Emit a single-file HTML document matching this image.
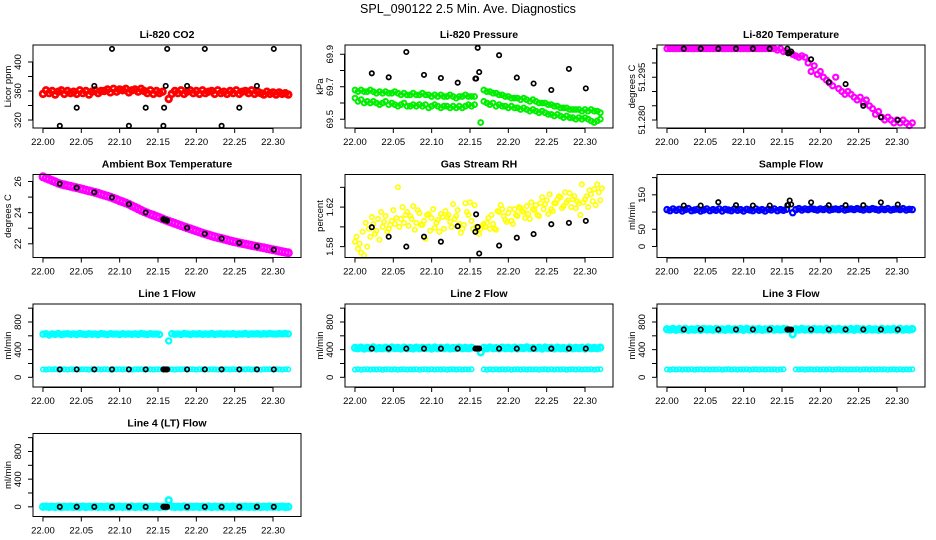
<!DOCTYPE html>
<html><head><meta charset="utf-8"><title>SPL_090122 Diagnostics</title>
<style>
html,body{margin:0;padding:0;background:#fff;}
svg{display:block;font-family:"Liberation Sans",Arial,sans-serif;}
</style></head>
<body>
<svg id="chart" width="936" height="540" viewBox="0 0 936 540" xmlns="http://www.w3.org/2000/svg">
<rect width="936" height="540" fill="#fff"/>
<text x="468" y="13" text-anchor="middle" font-size="12.5">SPL_090122  2.5 Min. Ave. Diagnostics</text>
</svg>
<script>
const sampleStart = 22.0;
const sampleStep = 0.004;
const xTicks = [22.00, 22.05, 22.10, 22.15, 22.20, 22.25, 22.30];
const xTickLabels = ["22.00","22.05","22.10","22.15","22.20","22.25","22.30"];

const avgTimes = [22.022,22.044,22.067,22.090,22.112,22.134,22.157,22.158,22.160,22.162,22.188,22.211,22.233,22.256,22.279,22.301];
const avgCO2 = [312,337,367,418,312,337,312,337,367,418,367,418,312,337,367,418];
const avgPress = [69.783,69.758,69.914,69.773,69.754,69.725,69.75,69.75,69.94,69.79,69.894,69.756,69.72,69.68,69.81,69.69];
const avgTemp = [51.305,51.305,51.305,51.305,51.305,51.305,51.305,51.3034,51.3035,51.304,51.3013,51.2933,51.2926,51.285,51.281,51.280];
const avgAmb = [25.85,25.6,25.31,24.97,24.54,24.01,23.58,23.55,23.52,23.48,23.03,22.64,22.34,22.06,21.83,21.62];
const avgRH = [1.5997,1.590,1.580,1.590,1.585,1.6007,1.595,1.6127,1.600,1.573,1.581,1.589,1.5927,1.6027,1.604,1.606];
const avgSample = [119,119,128.6,120,119,119,120,120,133.6,122,128,120,120,120,128,122];
const avgLine1 = [115,115,115,115,115,115,115,115,115,115,115,115,115,115,115,115];
const avgLine2 = [415,415,415,415,415,415,415,415,415,415,415,415,415,415,415,415];
const avgLine3 = [692,692,692,692,692,692,692,692,692,692,692,692,692,692,692,692];
const avgLine4 = [0,0,0,0,0,0,0,0,0,0,0,0,0,0,0,0];

const co2 = [356,361,357,360,355,359,361,356,360,357, 359,356,361,357,360,355,359,361,357,360,
 360,362,358,363,359,362,361,363,358,361, 362,359,363,360,357,361,356,360,357,359,
 null,349,356,360,357,361,356,359,361,357, 360,356,361,357,359,360,356,361,357,359,
 356,360,357,361,356,359,360,357,361,356, 359,357,355,359,356,358,355,358,356,357, 355];
const pressUp = [69.68,69.67,69.68,69.67,69.67,69.68,69.67,69.66,69.67,69.66, 69.67,69.66,69.66,69.67,69.66,69.65,69.66,69.65,69.65,69.66,
 69.65,69.65,69.66,69.65,69.65,69.64,69.65,69.64,69.65,69.64, 69.64,69.65,69.64,69.63,69.64,69.64,69.65,69.64,69.64,69.64,
 null,null,69.68,69.67,69.67,69.66,69.66,69.65,69.65,69.64, 69.64,69.63,69.63,69.63,69.62,69.63,69.62,69.61,69.62,69.61,
 69.60,69.60,69.60,69.59,69.59,69.58,69.58,69.57,69.57,69.57, 69.56,69.56,69.56,69.56,69.55,69.56,69.55,69.56,69.55,69.55, 69.54];
const pressLow = [69.63,69.61,69.62,69.60,69.61,69.60,69.61,69.60,69.59,69.60, 69.61,69.59,69.60,69.59,69.58,69.59,69.60,69.58,69.58,69.59,
 69.58,69.59,69.58,69.59,69.57,69.58,69.59,69.58,69.57,69.58, 69.58,69.57,69.58,69.57,69.58,69.57,69.58,69.59,69.58,69.59,
 null,69.48,69.61,69.60,69.59,69.60,69.58,69.59,69.58,69.58, 69.57,69.58,69.57,69.57,69.56,69.57,69.56,69.55,69.56,69.55,
 69.54,69.55,69.54,69.53,69.53,69.52,69.53,69.52,69.51,69.52, 69.51,69.51,69.50,69.51,69.50,69.51,69.50,69.49,69.48,69.49, 69.50];
const tempLi = [51.305,51.305,51.305,51.305,51.305,51.305,51.305,51.305,51.305,51.305, 51.305,51.305,51.305,51.305,51.305,51.305,51.305,51.305,51.305,51.305,
 51.305,51.305,51.305,51.305,51.305,51.305,51.305,51.305,51.305,51.305, 51.305,51.305,51.305,51.305,51.305,51.305,51.3045,51.305,51.304,51.304,
 null,51.303,51.3025,51.302,51.3025,51.302,51.300,51.297,51.299,51.296, 51.297,51.295,51.294,51.293,51.292,51.295,51.291,51.290,51.289,51.290,
 51.289,51.288,51.287,51.288,51.286,51.287,51.285,51.284,51.282,51.283, 51.281,51.280,51.281,51.280,51.279,51.280,51.279,51.280,51.279,51.278, 51.279];
const ambient = [26.30,26.22,26.14,26.06,25.98,25.89,25.83,25.78,25.74,25.69, 25.64,25.60,25.55,25.50,25.45,25.40,25.35,25.30,25.24,25.18,
 25.12,25.06,25.00,24.93,24.85,24.77,24.70,24.62,24.54,24.44, 24.35,24.25,24.15,24.06,23.98,23.90,23.83,23.75,23.68,23.60,
 23.52,23.45,23.38,23.31,23.24,23.17,23.10,23.03,22.96,22.89, 22.83,22.76,22.69,22.63,22.57,22.51,22.45,22.40,22.35,22.30,
 22.25,22.20,22.15,22.11,22.06,22.02,21.98,21.94,21.90,21.86, 21.82,21.78,21.74,21.70,21.66,21.62,21.58,21.54,21.50,21.46, 21.42];
const rhA = [1.585,1.578,1.574,1.571,1.580,1.590,1.603,1.596,1.587,1.600, 1.611,1.598,1.606,1.603,1.640,1.608,1.604,1.615,1.611,1.621,
 1.604,1.614,1.602,1.588,1.613,1.609,1.599,1.607,1.613,1.598, 1.610,1.605,1.623,1.611,1.603,1.598,1.624,1.612,1.606,1.622,
 1.596,1.598,1.603,1.604,1.598,1.603,1.597,1.615,1.618,1.607, 1.614,1.606,1.618,1.611,1.619,1.615,1.621,1.608,1.618,1.622,
 1.611,1.630,1.623,1.613,1.618,1.624,1.628,1.630,1.621,1.625, 1.634,1.628,1.619,1.624,1.643,1.628,1.620,1.633,1.638,1.643, 1.627];
const rhB = [1.590,1.583,1.595,1.604,1.598,1.610,1.593,1.608,1.615,1.605, 1.595,1.602,1.617,1.609,1.600,1.620,1.612,1.601,1.608,1.597,
 1.617,1.602,1.606,1.612,1.596,1.618,1.604,1.595,1.610,1.616, 1.612,1.600,1.608,1.617,1.594,1.602,1.615,1.625,1.598,1.600,
 1.593,1.601,1.600,1.609,1.612,1.598,1.616,1.622,1.611,1.605, 1.618,1.603,1.612,1.620,1.616,1.609,1.613,1.625,1.617,1.612,
 1.624,1.618,1.627,1.633,1.616,1.624,1.631,1.619,1.635,1.627, 1.620,1.631,1.626,1.612,1.625,1.631,1.637,1.626,1.622,1.635, 1.639];
const sampleFlow = [107,104,109,105,108,103,107,110,104,106, 108,103,106,109,104,107,105,109,103,108, 106,104,109,105,107,103,108,106,104,109,
 105,107,103,108,106,109,104,107,105,108, null,98,107,110,106,109,107,110,108,106, 109,107,110,106,108,109,107,110,106,108,
 109,107,110,108,106,109,107,110,108,106, 109,107,110,106,108,109,107,110,106,108, 107];
const line1Up = [625,630,612,628,620,633,618,626,631,622, 628,619,633,625,620,630,624,627,618,632, 626,621,630,625,628,619,631,624,627,622,
 629,620,633,626,621,630,625,628,619,null, null,527,630,624,628,621,633,626,620,629, 625,631,622,628,624,633,620,627,630,623,
 629,625,632,621,628,626,634,622,629,627, 631,624,630,626,633,628,625,632,629,634, 627];
const line1Low = [115,112,118,114,116,113,117,115,112,118, 114,116,113,117,115,112,118,114,116,113, 117,115,112,118,114,116,113,117,115,112,
 118,114,116,113,117,115,112,118,114,116, 113,117,115,112,118,114,116,113,117,115, 112,118,114,116,113,117,115,112,118,114,
 116,113,117,115,112,118,114,116,113,117, 115,112,118,114,116,113,117,115,112,118, 115];
const line2Up = [425,418,430,415,427,420,432,416,424,419, 428,415,431,421,426,417,429,420,424,416, 430,418,425,421,428,415,431,419,426,420,
 429,416,424,421,430,418,425,420,428,null, null,360,426,419,431,420,424,417,429,421, 425,418,430,416,427,421,432,419,424,420,
 428,415,431,421,426,417,429,420,424,416, 430,418,425,421,428,415,431,419,426,420, 429];
const line2Low = [112,116,110,114,118,111,115,113,117,110, 114,118,112,116,110,114,117,111,115,113, 118,110,114,116,112,117,111,115,113,118,
 110,114,116,112,117,111,115,113,117,null, null,null,114,110,116,112,117,111,115,113, 118,110,114,116,112,117,111,115,113,118,
 110,114,116,112,117,111,115,113,118,110, 114,116,112,117,111,115,113,118,110,114, 116];
const line3Up = [695,688,700,685,697,690,702,686,694,689, 698,685,701,691,696,687,699,690,694,686, 700,688,695,691,698,685,701,689,696,690,
 699,686,694,691,700,688,695,690,698,693, null,620,696,689,701,690,694,687,699,691, 695,688,700,686,697,691,702,689,694,690,
 698,685,701,691,696,687,699,690,694,686, 700,688,695,691,698,685,701,689,696,690, 699];
const line3Low = [114,110,116,112,117,111,115,113,118,110, 114,116,112,117,111,115,113,118,110,114, 116,112,117,111,115,113,118,110,114,116,
 112,117,111,115,113,118,110,114,116,null, null,null,115,113,118,110,114,116,112,117, 111,115,113,118,110,114,116,112,117,111,
 115,113,118,110,114,116,112,117,111,115, 113,118,110,114,116,112,117,111,115,113, 116];
const line4 = [0,3,-3,2,-2,4,-4,1,-1,3, -3,2,-2,4,-4,1,-1,3,-3,2, -2,4,-4,1,-1,3,-3,2,-2,4, -4,1,-1,3,-3,2,-2,4,-4,1,
 -1,95,3,-3,2,-2,4,-4,1,-1, 3,-3,2,-2,4,-4,1,-1,3,-3, 2,-2,4,-4,1,-1,3,-3,2,-2, 4,-4,1,-1,3,-3,2,-2,4,-4, 0];

const co2Ticks = [320,340,360,380,400];
const co2Labels = ["320","","360","","400"];
const pressTicks = [69.5,69.6,69.7,69.8,69.9];
const pressLabels = ["69.5","","69.7","","69.9"];
const tempTicks = [51.280,51.285,51.290,51.295,51.300,51.305];
const tempLabels = ["51.280","","","51.295","",""];
const ambTicks = [22,23,24,25,26];
const ambLabels = ["22","","24","","26"];
const rhTicks = [1.58,1.60,1.62,1.64];
const rhLabels = ["1.58","","1.62",""];
const sampleTicks = [0,50,100,150,200];
const sampleLabels = ["0","50","","150",""];
const flowTicks = [0,200,400,600,800,1000];
const flowLabels = ["0","","400","","800",""];

const NS = "http://www.w3.org/2000/svg";
const svg = document.getElementById('chart');
const X0 = 21.987, X1 = 22.3365;
const BOXW = 268, BOXH = 83;

function mk(tag, attrs, parent) {
  const e = document.createElementNS(NS, tag);
  for (const k in attrs) e.setAttribute(k, attrs[k]);
  (parent || svg).appendChild(e);
  return e;
}

const panels = [
  {key:'co2', col:0,row:0,title:'Li-820 CO2',ylab:'Licor ppm',ymin:309,ymax:423.4,ticks:co2Ticks,labels:co2Labels,
   dense:[{v:co2,c:'#ff0000',r:2.8,w:2.8}],avg:avgCO2},
  {key:'pressure', col:1,row:0,title:'Li-820 Pressure',ylab:'kPa',ymin:69.446,ymax:69.957,ticks:pressTicks,labels:pressLabels,
   dense:[{v:pressUp,c:'#00ee00',r:2.4,w:2},{v:pressLow,c:'#00ee00',r:2.4,w:2}],avg:avgPress},
  {key:'li820-temperature', col:2,row:0,title:'Li-820 Temperature',ylab:'degrees C',ymin:51.2772,ymax:51.3063,ticks:tempTicks,labels:tempLabels,
   dense:[{v:tempLi,c:'#ff00ff',r:2.5,w:2.2}],avg:avgTemp},
  {key:'ambient-temperature', col:0,row:1,title:'Ambient Box Temperature',ylab:'degrees C',ymin:21.12,ymax:26.45,ticks:ambTicks,labels:ambLabels,
   dense:[{v:ambient,c:'#ff00ff',r:3.2,w:2.6}],avg:avgAmb},
  {key:'gas-stream-rh', col:1,row:1,title:'Gas Stream RH',ylab:'percent',ymin:1.569,ymax:1.653,ticks:rhTicks,labels:rhLabels,
   dense:[{v:rhA,c:'#ffff00'},{v:rhB,c:'#ffff00',off:0.002}],avg:avgRH},
  {key:'sample-flow', col:2,row:1,title:'Sample Flow',ylab:'ml/min',ymin:-32,ymax:209,ticks:sampleTicks,labels:sampleLabels,
   dense:[{v:sampleFlow,c:'#0000ff',r:2.6,w:2.2}],avg:avgSample},
  {key:'line1-flow', col:0,row:2,title:'Line 1 Flow',ylab:'ml/min',ymin:-140,ymax:1060,ticks:flowTicks,labels:flowLabels,
   dense:[{v:line1Up,c:'#00ffff',r:2.6,w:2.2},{v:line1Low,c:'#00ffff'}],avg:avgLine1},
  {key:'line2-flow', col:1,row:2,title:'Line 2 Flow',ylab:'ml/min',ymin:-140,ymax:1060,ticks:flowTicks,labels:flowLabels,
   dense:[{v:line2Up,c:'#00ffff',r:2.8,w:2.6},{v:line2Low,c:'#00ffff'}],avg:avgLine2},
  {key:'line3-flow', col:2,row:2,title:'Line 3 Flow',ylab:'ml/min',ymin:-140,ymax:1060,ticks:flowTicks,labels:flowLabels,
   dense:[{v:line3Up,c:'#00ffff',r:2.8,w:2.6},{v:line3Low,c:'#00ffff'}],avg:avgLine3},
  {key:'line4-flow', col:0,row:3,title:'Line 4 (LT) Flow',ylab:'ml/min',ymin:-140,ymax:1060,ticks:flowTicks,labels:flowLabels,
   dense:[{v:line4,c:'#00ffff',r:2.8,w:2.6}],avg:avgLine4}
];

panels.forEach(p => {
  const left = 33 + p.col * 312;
  const top = 45 + p.row * 129.5;
  const xs = v => left + (v - X0) / (X1 - X0) * BOXW;
  const ys = v => top + (p.ymax - v) / (p.ymax - p.ymin) * BOXH;

  const g = mk('g', {});
  
  

  const t = mk('text', {x: left + BOXW/2, y: top - 7, 'text-anchor':'middle', 'font-size':'10.5', 'font-weight':'bold'}, g);
  t.textContent = p.title;
  
  

  const marks = mk('g', {}, g);
  
  
  p.dense.forEach(s => {
    s.v.forEach((val, i) => {
      if (val === null) return;
      const tt = sampleStart + i * sampleStep + (s.off || 0);
      const c = mk('circle', {cx: xs(tt).toFixed(1), cy: ys(val).toFixed(1), r: s.r || 2.2, fill:'none', stroke: s.c, 'stroke-width': s.w || 1.6}, marks);
      
      
    });
  });
  const avgG = mk('g', {}, g);
  
  
  p.avg.forEach((val, i) => {
    const c = mk('circle', {cx: xs(avgTimes[i]).toFixed(1), cy: ys(val).toFixed(1), r: 2.2, fill:'none', stroke:'#000', 'stroke-width': 1.7}, avgG);
    
    
  });

  const box = mk('rect', {x:left, y:top, width:BOXW, height:BOXH, fill:'none', stroke:'#000', 'stroke-width':1}, g);
  
  

  const xa = mk('g', {}, g);
  
  
  const bot = top + BOXH;
  mk('line', {x1: xs(xTicks[0]), x2: xs(xTicks[xTicks.length-1]), y1: bot + 0.5, y2: bot + 0.5, stroke:'#000'}, xa);
  xTicks.forEach((v, i) => {
    mk('line', {x1: xs(v), x2: xs(v), y1: bot, y2: bot + 5, stroke:'#000'}, xa);
    const lt = mk('text', {x: xs(v), y: bot + 17, 'text-anchor':'middle', 'font-size':'9.5'}, xa);
    lt.textContent = xTickLabels[i];
    
    
  });

  const ya = mk('g', {}, g);
  
  
  mk('line', {x1: left - 0.5, x2: left - 0.5, y1: ys(p.ticks[0]), y2: ys(p.ticks[p.ticks.length-1]), stroke:'#000'}, ya);
  p.ticks.forEach((v, i) => {
    const y = ys(v);
    mk('line', {x1: left - 5, x2: left, y1: y, y2: y, stroke:'#000'}, ya);
    if (p.labels[i]) {
      const lt = mk('text', {x: left - 12, y: y, 'text-anchor':'middle', 'font-size':'9.5', transform:`rotate(-90 ${left-12} ${y})`}, ya);
      lt.textContent = p.labels[i];
      
      
    }
  });
  const yl = mk('text', {x: left - 22, y: top + BOXH/2, 'text-anchor':'middle', 'font-size':'9.5', transform:`rotate(-90 ${left-22} ${top + BOXH/2})`}, g);
  yl.textContent = p.ylab;
  
  
});
</script>
</body></html>
